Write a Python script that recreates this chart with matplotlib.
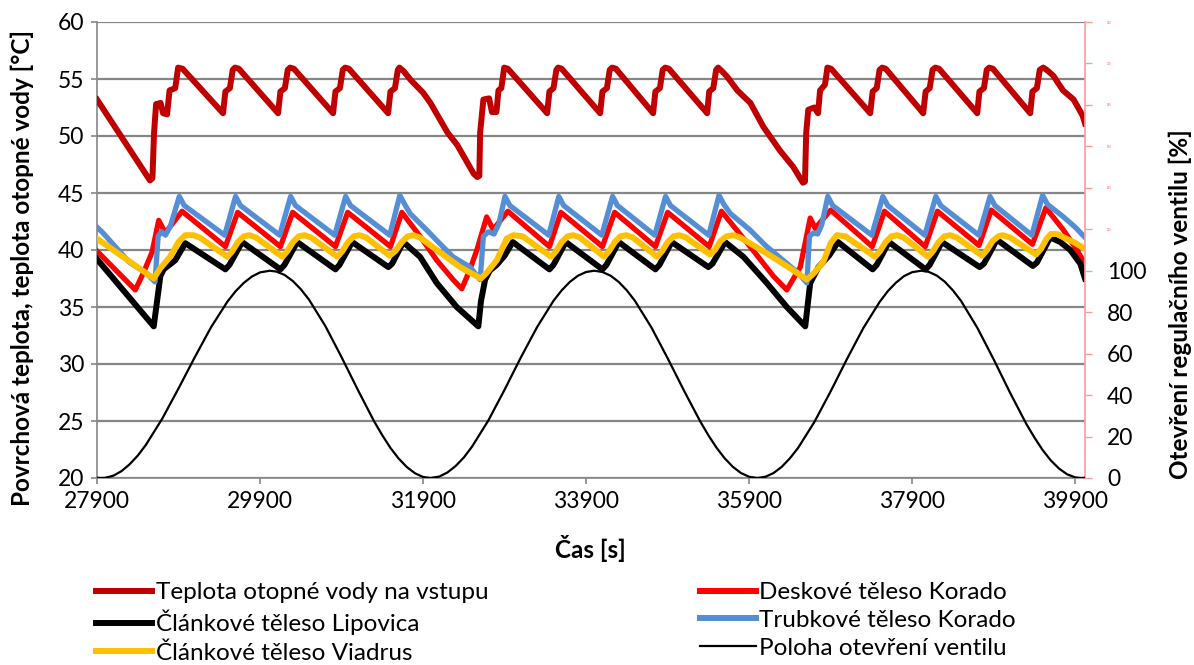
import matplotlib
matplotlib.use("Agg")
import matplotlib.pyplot as plt
from matplotlib.lines import Line2D

FONT = ["Lato", "DejaVu Sans"]
plt.rcParams["font.family"] = FONT

# ---------------- data ----------------
sup_t = [27900, 28550, 28580, 28600, 28625, 28680, 28710, 28760, 28790, 28860, 28895, 28950,
         29446, 29475, 29530, 29565, 29593, 29640,
         30121, 30150, 30205, 30240, 30268, 30315,
         30796, 30825, 30880, 30915, 30943, 30990,
         31471, 31500, 31555, 31590, 31610, 31660,
         31750, 31900, 31990, 32200, 32320, 32520, 32565,
         32590, 32600, 32640, 32710, 32745, 32800, 32825, 32860, 32895, 32940,
         33422, 33450, 33500, 33535, 33557, 33600,
         34072, 34100, 34155, 34190, 34219, 34265,
         34722, 34750, 34805, 34840, 34870, 34915,
         35385, 35410, 35460, 35495, 35520, 35565,
         35630, 35755, 35915, 36075, 36280, 36440, 36560,
         36585, 36600, 36625, 36700, 36745, 36770, 36830, 36860, 36905,
         37385, 37415, 37465, 37500, 37532, 37575,
         38035, 38065, 38115, 38150, 38183, 38230,
         38698, 38725, 38780, 38815, 38845, 38890,
         39348, 39375, 39430, 39465, 39507, 39550,
         39630, 39750, 39880, 39990, 40020]
sup_v = [53.2, 46.1, 46.3, 50.3, 52.8, 52.9, 52.0, 51.9, 54.0, 54.2, 56.0, 55.9,
         52.0, 53.9, 54.2, 55.8, 56.0, 55.9,
         52.0, 53.9, 54.2, 55.8, 56.0, 55.9,
         52.0, 53.9, 54.2, 55.8, 56.0, 55.9,
         52.0, 53.9, 54.2, 55.8, 56.0, 55.7,
         54.9, 53.8, 52.9, 50.3, 49.2, 46.7, 46.4,
         46.5, 50.3, 53.2, 53.3, 52.1, 52.1, 54.0, 54.2, 56.0, 55.9,
         52.0, 53.9, 54.2, 55.8, 56.0, 55.9,
         52.0, 53.9, 54.2, 55.8, 56.0, 55.9,
         52.0, 53.9, 54.2, 55.8, 56.0, 55.9,
         52.0, 53.9, 54.2, 55.8, 56.0, 55.7,
         55.2, 54.0, 52.9, 50.8, 48.7, 47.3, 45.9,
         46.0, 50.3, 52.3, 52.5, 52.0, 54.0, 54.5, 56.0, 55.9,
         52.0, 53.9, 54.2, 55.8, 56.0, 55.9,
         52.0, 53.9, 54.2, 55.8, 56.0, 55.9,
         52.0, 53.9, 54.2, 55.8, 56.0, 55.9,
         52.0, 53.9, 54.2, 55.8, 56.0, 55.8,
         55.3, 54.0, 53.2, 51.8, 51.1]

red_t = [27900, 28370, 28470, 28575, 28657, 28738, 28943,
         29475, 29625, 30150, 30300, 30825, 30975, 31500, 31640,
         31863, 32068, 32268, 32375, 32470, 32560, 32680, 32760, 32940,
         33450, 33590, 34100, 34250, 34750, 34900, 35410, 35560,
         35912, 36198, 36362, 36527, 36649, 36710, 36900,
         37410, 37560, 38060, 38210, 38720, 38870, 39375, 39540,
         39756, 39920, 40020]
red_v = [39.9, 36.5, 38.0, 39.8, 42.6, 41.5, 43.4,
         40.3, 43.3, 40.3, 43.3, 40.3, 43.3, 40.3, 43.3,
         41.2, 39.1, 37.4, 36.6, 38.2, 40.0, 42.9, 41.8, 43.4,
         40.3, 43.3, 40.3, 43.3, 40.3, 43.3, 40.3, 43.4,
         40.3, 37.7, 36.5, 38.5, 42.8, 41.9, 43.5,
         40.3, 43.4, 40.3, 43.4, 40.4, 43.5, 40.5, 43.7,
         41.75, 40.0, 38.8]

blk_t = [27900, 28596, 28677, 28717, 28860, 28983,
         29475, 29525, 29680, 30150, 30200, 30355, 30825, 30875, 31030,
         31474, 31520, 31658,
         31863, 32068, 32313, 32578, 32610, 32661, 32720, 32804, 32900, 33000,
         33450, 33500, 33650, 34100, 34150, 34300, 34750, 34800, 34950,
         35400, 35450, 35605,
         35830, 36117, 36362, 36588, 36649, 36750, 36880, 36990,
         37415, 37465, 37615, 38065, 38115, 38265, 38728, 38780, 38940,
         39380, 39430, 39593, 39716, 39839, 39962, 40020]
blk_v = [39.2, 33.3, 37.7, 38.3, 39.1, 40.6,
         38.3, 38.7, 40.7, 38.3, 38.7, 40.7, 38.3, 38.7, 40.7,
         38.5, 38.8, 40.7,
         39.4, 37.1, 35.0, 33.3, 35.5, 37.4, 38.2, 38.7, 39.5, 40.7,
         38.3, 38.7, 40.7, 38.3, 38.7, 40.7, 38.3, 38.7, 40.7,
         38.5, 38.8, 40.7,
         39.4, 37.1, 35.0, 33.3, 37.1, 38.5, 39.5, 40.7,
         38.3, 38.7, 40.7, 38.3, 38.7, 40.7, 38.5, 38.8, 40.9,
         38.6, 38.9, 41.1, 40.7, 40.0, 38.8, 37.5]

blu_t = [27900, 27960, 28300, 28500, 28612, 28650, 28690, 28740, 28800, 28910, 28970,
         29466, 29600, 29660, 30141, 30275, 30335, 30816, 30950, 31010, 31491, 31615, 31675,
         31740, 31945, 32100, 32268, 32477, 32600,
         32640, 32700, 32770, 32830, 32905, 32965,
         33442, 33565, 33625, 34092, 34225, 34285, 34742, 34875, 34935, 35405, 35530, 35590,
         35670, 35912, 36100, 36317, 36500, 36608,
         36640, 36690, 36740, 36790, 36865, 36925,
         37405, 37540, 37600, 38055, 38190, 38250, 38718, 38855, 38915, 39368, 39500, 39560,
         39756, 39900, 40020]
blu_v = [42.0, 41.6, 38.9, 38.0, 37.2, 41.2, 41.6, 41.3, 42.1, 44.7, 43.9,
         41.3, 44.7, 43.9, 41.3, 44.7, 43.9, 41.3, 44.7, 43.9, 41.3, 44.8, 44.0,
         43.2, 41.75, 40.6, 39.4, 38.5, 37.4,
         41.2, 41.6, 41.4, 42.3, 44.7, 43.9,
         41.3, 44.7, 43.9, 41.3, 44.7, 43.9, 41.3, 44.7, 43.9, 41.3, 44.8, 44.0,
         43.2, 41.75, 40.4, 39.1, 38.0, 37.1,
         41.2, 41.5, 41.4, 42.2, 44.7, 43.9,
         41.3, 44.7, 43.9, 41.3, 44.7, 43.9, 41.3, 44.7, 43.9, 41.3, 44.8, 44.0,
         42.9, 42.0, 41.1]

yel_t = [27900, 28596, 28677, 28796, 28900, 28983, 29080, 29160,
         29500, 29560, 29630, 29700, 29770, 29850,
         30175, 30235, 30305, 30375, 30445, 30525,
         30850, 30910, 30980, 31050, 31120, 31200,
         31490, 31560, 31640, 31710, 31781, 31860,
         32068, 32354, 32610, 32680, 32804, 32927, 33008, 33120,
         33472, 33532, 33602, 33672, 33742, 33822,
         34122, 34182, 34252, 34322, 34392, 34472,
         34772, 34832, 34902, 34972, 35042, 35122,
         35420, 35480, 35550, 35620, 35708, 35790,
         36117, 36402, 36608, 36700, 36812, 36900, 36976, 37080,
         37445, 37505, 37575, 37645, 37715, 37795,
         38095, 38155, 38225, 38295, 38365, 38445,
         38758, 38818, 38888, 38958, 39010, 39100,
         39420, 39480, 39550, 39600, 39680, 39760, 39880, 40020]
yel_v = [41.0, 37.5, 38.4, 39.4, 40.7, 41.3, 41.3, 41.1,
         39.4, 39.9, 40.7, 41.2, 41.3, 41.1,
         39.4, 39.9, 40.7, 41.2, 41.3, 41.1,
         39.4, 39.9, 40.7, 41.2, 41.3, 41.1,
         39.5, 39.9, 40.7, 41.2, 41.3, 41.1,
         40.0, 38.5, 37.5, 38.0, 39.1, 41.0, 41.3, 41.2,
         39.4, 39.9, 40.7, 41.2, 41.3, 41.1,
         39.4, 39.9, 40.7, 41.2, 41.3, 41.1,
         39.4, 39.9, 40.7, 41.2, 41.3, 41.1,
         39.6, 40.0, 40.8, 41.2, 41.3, 41.1,
         39.7, 38.4, 37.4, 38.0, 39.0, 40.6, 41.3, 41.2,
         39.4, 39.9, 40.7, 41.2, 41.3, 41.1,
         39.4, 39.9, 40.7, 41.2, 41.3, 41.1,
         39.5, 40.0, 40.8, 41.2, 41.3, 41.1,
         39.6, 40.1, 41.0, 41.4, 41.4, 41.1, 40.7, 40.1]

valve_t = [27900, 27960, 28000, 28100, 28200, 28300, 28400, 28500, 28700, 28900, 29100, 29300,
           29500, 29600, 29700, 29800, 29900, 30020, 30100, 30200, 30300, 30400, 30500, 30700,
           30900, 31100, 31300, 31400, 31500, 31600, 31700, 31800, 31900, 31990, 32100, 32200,
           32300, 32400, 32500, 32700, 32900, 33100, 33300, 33500, 33600, 33700, 33800, 33900,
           34000, 34100, 34200, 34300, 34400, 34500, 34700, 34900, 35100, 35300, 35400, 35500,
           35600, 35700, 35800, 35900, 36000, 36100, 36200, 36300, 36400, 36500, 36700, 36900,
           37100, 37300, 37500, 37600, 37700, 37800, 37900, 38010, 38100, 38200, 38300, 38400,
           38500, 38700, 38900, 39100, 39300, 39400, 39500, 39600, 39700, 39800, 39900, 39970,
           40020]
valve_v = [0.1, 0.0, 0.1, 1.1, 3.3, 6.6, 10.8, 16.0, 28.6, 43.2, 58.3, 72.8,
           85.1, 90.1, 94.1, 97.2, 99.2, 100.0, 99.6, 98.0, 95.1, 91.1, 86.1, 73.4,
           58.3, 42.5, 27.3, 20.6, 14.5, 9.4, 5.3, 2.3, 0.5, 0.0, 0.7, 2.7,
           5.8, 9.9, 15.1, 27.7, 42.6, 58.2, 72.9, 85.5, 90.5, 94.6, 97.6, 99.4,
           100.0, 99.4, 97.6, 94.6, 90.5, 85.4, 72.7, 57.8, 42.2, 27.3, 20.6, 14.6,
           9.5, 5.4, 2.4, 0.6, 0.0, 0.6, 2.4, 5.4, 9.5, 14.5, 27.0, 41.8,
           57.4, 72.3, 84.9, 90.1, 94.2, 97.4, 99.3, 100.0, 99.5, 97.7, 94.7, 90.5,
           85.4, 72.4, 57.2, 41.2, 26.1, 19.5, 13.5, 8.5, 4.6, 1.8, 0.3, 0.0,
           0.1]

labels = ["Teplota otopné vody na vstupu", "Deskové těleso Korado",
          "Článkové těleso Lipovica", "Trubkové těleso Korado",
          "Článkové těleso Viadrus", "Poloha otevření ventilu"]
colors = ["#C00000", "#FF0000", "#000000", "#558ED5", "#FFC000", "#000000"]

x_ticks = [27900, 29900, 31900, 33900, 35900, 37900, 39900]
y_ticks = [20, 25, 30, 35, 40, 45, 50, 55, 60]
y2_ticks = [0, 20, 40, 60, 80, 100, 120, 140, 160, 180, 200, 220]

# ---------------- figure ----------------
W, H = 1194, 665
fig = plt.figure(figsize=(W / 100, H / 100), dpi=100)
ax = fig.add_axes([97 / W, 1 - 478 / H, 988 / W, 456 / H])
ax2 = ax.twinx()

GRID = "#868686"
TICK_FS = 16.5
LAB_FS = 17.5
LEG_FS = 17.5
widths = [4.3, 3.8, 4.3, 3.8, 4.3, 1.6]

ax.plot(sup_t, sup_v, color=colors[0], lw=widths[0], solid_joinstyle="round", zorder=3)
ax.plot(red_t, red_v, color=colors[1], lw=widths[1], solid_joinstyle="round", zorder=4)
ax.plot(blk_t, blk_v, color=colors[2], lw=widths[2], solid_joinstyle="round", zorder=5)
ax.plot(blu_t, blu_v, color=colors[3], lw=widths[3], solid_joinstyle="round", zorder=6)
ax.plot(yel_t, yel_v, color=colors[4], lw=widths[4], solid_joinstyle="round", zorder=7)
ax2.plot(valve_t, valve_v, color=colors[5], lw=widths[5], solid_joinstyle="round", zorder=8)

ax.set_xlim(27900, 40020)
ax.set_ylim(20, 60)
ax2.set_ylim(0, 220)
ax.set_xticks(x_ticks)
ax.set_xticklabels([str(v) for v in x_ticks])
ax.set_yticks(y_ticks)
ax.set_yticklabels([str(v) for v in y_ticks])
ax.yaxis.grid(True, color=GRID, lw=1.6)
ax.set_axisbelow(True)

for s in ["top", "right"]:
    ax.spines[s].set_visible(False)
for s in ["left", "bottom"]:
    ax.spines[s].set_color(GRID)
    ax.spines[s].set_linewidth(1.2)
ax.tick_params(axis="both", colors=GRID, labelcolor="black", labelsize=TICK_FS,
               length=4, width=1.2, direction="out")
ax.tick_params(axis="y", pad=5)
ax.tick_params(axis="x", pad=5)

for s in ["top", "left", "bottom"]:
    ax2.spines[s].set_visible(False)
ax2.spines["right"].set_color("#FF9A9A")
ax2.spines["right"].set_linewidth(1.2)
ax2.set_yticks(y2_ticks)
ax2.set_yticklabels([str(v) for v in y2_ticks])
ax2.tick_params(axis="y", colors="#FF9A9A", labelcolor="black", labelsize=TICK_FS,
                length=5, width=1.0, pad=11)
for lab, v in zip(ax2.get_yticklabels(), y2_ticks):
    if v > 100:
        lab.set_fontsize(2)
        lab.set_color("#FF6060")

# axis titles placed at the reference positions
fig.text(590 / W, 1 - 549 / H, "Čas [s]", fontsize=LAB_FS, fontweight="bold",
         ha="center", va="center")
fig.text(22 / W, 1 - 268 / H, "Povrchová teplota, teplota otopné vody [°C]",
         fontsize=LAB_FS, fontweight="bold", rotation=90, ha="center", va="center")
fig.text(1180 / W, 1 - 304 / H, "Otevření regulačního ventilu [%]",
         fontsize=LAB_FS, fontweight="bold", rotation=90, ha="center", va="center")

# legend (row-wise order like the reference)
handles = [Line2D([], [], color=colors[i], lw=(1.6 if i == 5 else 4.3)) for i in range(6)]
order = [0, 2, 4, 1, 3, 5]
fig.legend([handles[i] for i in order], [labels[i] for i in order],
           ncol=2, loc="upper left", bbox_to_anchor=(96 / W, 1 - 582 / H),
           frameon=False, fontsize=LEG_FS, handlelength=2.3, handletextpad=0.15,
           columnspacing=8.7, labelspacing=0.28, borderpad=0, borderaxespad=0)

fig.savefig("out.png", dpi=100)
